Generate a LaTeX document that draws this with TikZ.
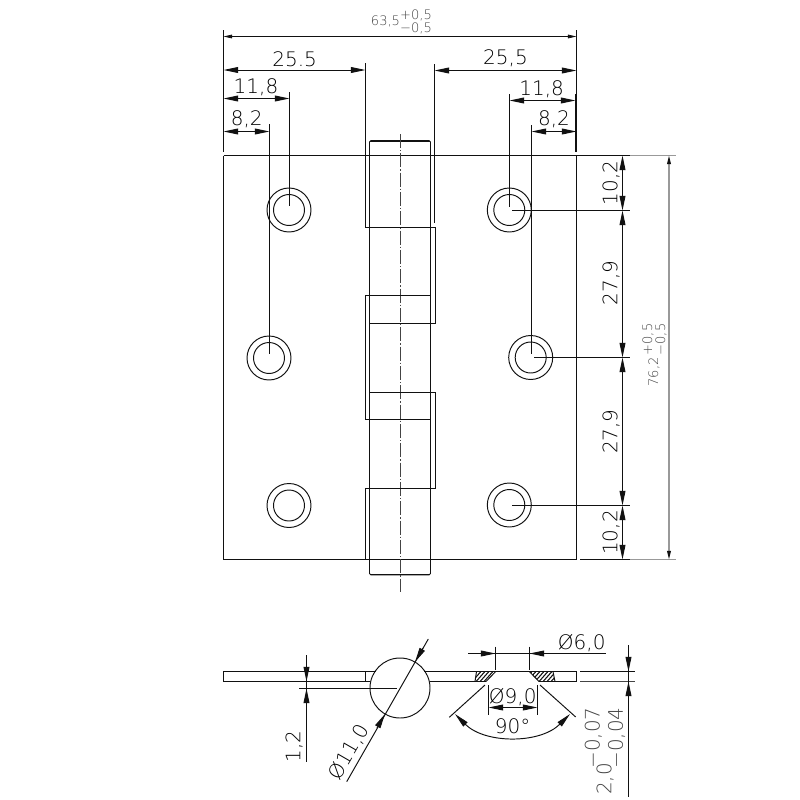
\documentclass[tikz,border=0pt]{standalone}
\usepackage{fontspec}
\setmainfont{DejaVu Sans ExtraLight}
\usetikzlibrary{arrows.meta}
\definecolor{ink}{HTML}{111111}
\definecolor{soft}{HTML}{444444}
\definecolor{pale}{HTML}{999999}
\tikzset{
  part/.style={draw=ink,line width=0.72pt},
  dimline/.style={draw=ink,line width=0.72pt},
  bigdim/.style={dimline,{Triangle[length=11pt,width=4.4pt]}-{Triangle[length=11pt,width=4.4pt]}},
  starttip/.style={dimline,{Triangle[length=11pt,width=4.4pt]}-},
  smalldim/.style={draw=ink,line width=0.6pt,{Triangle[length=6.5pt,width=2.8pt]}-{Triangle[length=6.5pt,width=2.8pt]}},
  paledim/.style={draw=pale,line width=1pt},
  centre/.style={draw=soft,line width=0.7pt,dash pattern=on 10.5pt off 1.5pt on 1pt off 1.5pt},
  big/.style={inner sep=0pt,text=black,font=\fontsize{15pt}{16pt}\selectfont},
  small/.style={inner sep=0pt,text=soft,font=\fontsize{9.8pt}{11pt}\selectfont},
}
\begin{document}
\begin{tikzpicture}[x=0.75pt,y=-0.75pt]
\useasboundingbox[fill=white] (0,0) rectangle (800,800);

% ---------- front view: plate ----------
\draw[part] (223.5,155.5) -- (630,155.5);
\draw[paledim] (630,155.5) -- (676,155.5);
\draw[part] (223.5,155.5) -- (223.5,559.5) -- (576.5,559.5) -- (576.5,155.5);
\draw[part] (580,559.5) -- (630,559.5);
\draw[paledim] (630,559.5) -- (676,559.5);

% ---------- barrel ----------
\draw[part] (369.5,155.5) -- (369.5,142) -- (371,140.5) -- (429,140.5) -- (430.5,142) -- (430.5,155.5);
\draw[part] (369.7,141) -- (430.3,141);
\draw[part] (369.5,155.5) -- (369.5,573.5) -- (371,575) -- (429,575) -- (430.5,573.5) -- (430.5,155.5);
\draw[part] (370,574.5) -- (430,574.5);
\draw[centre] (400,134) -- (400,592);

% ---------- knuckles ----------
\draw[part] (365.5,63) -- (365.5,227.5) -- (435.5,227.5);
\draw[part] (434.5,64) -- (434.5,223);
\draw[part] (435.5,227.5) -- (435.5,323.5) -- (369.5,323.5);
\draw[part] (430.5,295.5) -- (365.5,295.5) -- (365.5,419.5) -- (430.5,419.5);
\draw[part] (369.5,392.5) -- (435.5,392.5) -- (435.5,488.5) -- (365.5,488.5) -- (365.5,559.5);

% ---------- holes ----------
\foreach \hx/\hy in {289/210, 269/358, 289/505.5, 509.3/210, 530.7/357.5, 509.3/505} {
  \draw[part] (\hx,\hy) circle (22);
  \draw[part] (\hx,\hy) circle (15.5);
}

% ---------- hole extension lines ----------
\draw[dimline] (289.5,92) -- (289.5,206);
\draw[dimline] (269.5,124) -- (269.5,354);
\draw[dimline] (509.5,94) -- (509.5,207);
\draw[dimline] (531.5,125) -- (531.5,354);
\draw[dimline] (512,210.5) -- (630,210.5);
\draw[dimline] (534,357.5) -- (630,357.5);
\draw[dimline] (512,505.5) -- (630,505.5);
\draw[dimline] (223.5,30) -- (223.5,152);
\draw[dimline] (576.5,30) -- (576.5,152);
\draw[dimline] (575.5,94) -- (575.5,152);

% ---------- top dimensions ----------
\draw[smalldim] (223.5,36.5) -- (576.5,36.5);
\draw[bigdim] (223.5,70) -- (365.5,70);
\draw[bigdim] (434.5,70.5) -- (576.5,70.5);
\draw[bigdim] (223.5,98.5) -- (289.5,98.5);
\draw[bigdim] (509.5,100.5) -- (575.5,100.5);
\draw[bigdim] (223.5,131.5) -- (269.5,131.5);
\draw[bigdim] (531.5,131.5) -- (576.5,131.5);

\node[small] (overall) at (385.5,21) {63,5};
\node[small] (overallp) at (416,15.5) {+0,5};
\node[small] (overallm) at (416,28) {\char"2212 0,5};
\node[big] (ltw) at (294.7,59.5) {25.5};
\node[big] (rtw) at (505.5,58.5) {25,5};
\node[big] (lel) at (256,87) {11,8};
\node[big] (rel) at (541.7,89) {11,8};
\node[big] (lei) at (246.7,119) {8,2};
\node[big] (rei) at (554,119.5) {8,2};

% ---------- right dimensions ----------
\draw[bigdim] (622.5,155.5) -- (622.5,210.5);
\draw[bigdim] (622.5,210.5) -- (622.5,357.5);
\draw[bigdim] (622.5,357.5) -- (622.5,505.5);
\draw[bigdim] (622.5,505.5) -- (622.5,559.5);
\draw[paledim,{Triangle[length=6.5pt,width=2.8pt,color=ink]}-{Triangle[length=6.5pt,width=2.8pt,color=ink]}] (669,155.5) -- (669,559.5);

\node[big,rotate=90] (a) at (611,183) {10,2};
\node[big,rotate=90] (b) at (611,283) {27,9};
\node[big,rotate=90] (c) at (611,431.7) {27,9};
\node[big,rotate=90] (d) at (611,532.5) {10,2};
\node[small,rotate=90] (h) at (654,372) {76,2};
\node[small,rotate=90] (hp) at (648,339.5) {+0,5};
\node[small,rotate=90] (hm) at (661,339.5) {\char"2212 0,5};

% ---------- side view: leaf ----------
\draw[part] (376,671.5) -- (223.5,671.5) -- (223.5,681.5) -- (370,681.5);
\draw[part] (365.5,671.5) -- (365.5,681.5);
\draw[part] (424,671.5) -- (576.5,671.5) -- (576.5,681.5) -- (539,681.5);
\draw[part] (486,681.5) -- (430,681.5);
\draw[part] (400,688) circle (30);
\draw[dimline] (299,688.5) -- (396.7,688.5);

% ---------- countersink section ----------
\begin{scope}
  \clip (476.5,671.5) -- (495.7,671.5) -- (486,681.5) -- (475,681.5) -- cycle;
  \foreach \k in {0,4,...,40} { \draw[draw=ink,line width=0.8pt] (465+\k,685) -- (480+\k,668); }
\end{scope}
\begin{scope}
  \clip (529.3,671.5) -- (553,671.5) -- (555,681.5) -- (539,681.5) -- cycle;
  \foreach \k in {0,4,...,40} { \draw[draw=ink,line width=0.8pt] (520+\k,685) -- (535+\k,668); }
\end{scope}
\draw[part] (495.7,671.5) -- (486,681.5);
\draw[part] (529.3,671.5) -- (539,681.5);
\draw[part] (476.5,671.5) -- (475,681.5);
\draw[part] (553,671.5) -- (555,681.5);

% ---------- side view dimensions ----------
\draw[dimline] (306.5,655) -- (306.5,762);
\draw[starttip] (306.5,681.5) -- (306.5,660);
\draw[starttip] (306.5,688.5) -- (306.5,705);
\node[big,rotate=90] (t) at (294,746.7) {1,2};

\draw[dimline] (346.7,781.7) -- (428.3,639);
\draw[starttip] (415,662) -- (423,648);
\draw[starttip] (385,714) -- (377,728);
\node[big,rotate=60] (dia) at (349,752) {Ø11,0};

\draw[dimline] (468.3,653.5) -- (605.7,653.5);
\draw[starttip] (495.5,653.5) -- (480,653.5);
\draw[starttip] (529.5,653.5) -- (545,653.5);
\draw[dimline] (495.5,646.7) -- (495.5,670);
\draw[dimline] (529.5,646.7) -- (529.5,670);
\node[big] (six) at (581.7,642.7) {Ø6,0};

\draw[dimline] (488.5,685) -- (488.5,715);
\draw[dimline] (537.5,685) -- (537.5,715);
\draw[bigdim] (488.5,707.5) -- (537.5,707.5);
\node[big] (nine) at (512.7,696.7) {Ø9,0};

\draw[dimline] (485,685) -- (449.3,717.3);
\draw[dimline] (540,685) -- (575.7,717);
\draw[dimline,{Triangle[length=11pt,width=4.4pt]}-{Triangle[length=11pt,width=4.4pt]}] (455,714) .. controls (485,744) and (540,744) .. (570,714);
\node[big] (ang) at (512.7,726) {90°};

\draw[part] (580,671.5) -- (635,671.5);
\draw[draw=soft,line width=0.72pt] (580,681.5) -- (635,681.5);
\draw[dimline] (628.5,645) -- (628.5,796.7);
\draw[starttip] (628.5,671.5) -- (628.5,655);
\draw[starttip] (628.5,681.5) -- (628.5,697);
\node[big,text=soft,rotate=90] (two) at (605,779) {2,0};
\node[big,text=soft,rotate=90] (twop) at (593.3,738) {\char"2212 0,07};
\node[big,text=soft,rotate=90] (twom) at (616.7,738) {\char"2212 0,04};
\end{tikzpicture}
\end{document}
